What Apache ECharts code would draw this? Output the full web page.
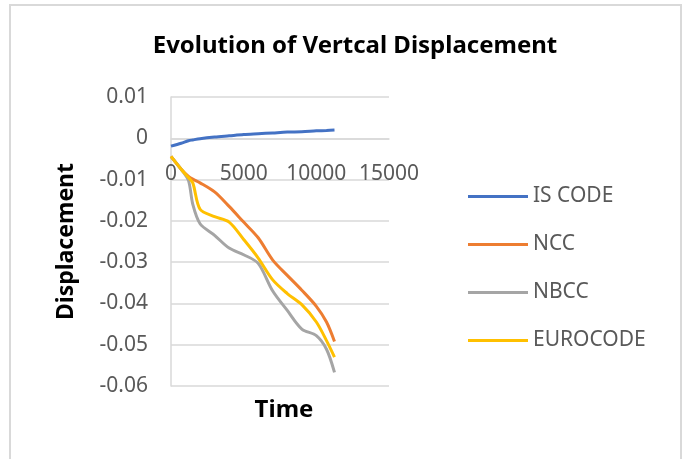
<!DOCTYPE html>
<html>
<head>
<meta charset="UTF-8">
<title>Evolution of Vertcal Displacement</title>
<script src="https://cdn.jsdelivr.net/npm/echarts@6/dist/echarts.min.js"></script>
<style>
  html, body { margin: 0; padding: 0; background: #fff; }
  #frame { position: absolute; left: 9px; top: 4px; width: 673px; height: 470px; border: 2px solid #d9d9d9; box-sizing: border-box; }
  #main { position: absolute; left: 0; top: 0; width: 684px; height: 459px; }
</style>
</head>
<body>
<div id="frame"></div>
<div id="main"></div>
<script>
var time     = [0, 700, 1200, 1500, 2000, 3000, 4000, 5000, 6000, 7000, 8000, 9000, 10000, 10700, 11250];
var isCode   = [-0.0019, -0.0012, -0.0006, -0.0004, -0.0001, 0.0003, 0.0006, 0.0009, 0.0011, 0.0013, 0.0015, 0.0016, 0.0018, 0.0019, 0.002];
var ncc      = [-0.0044, -0.0075, -0.0092, -0.0099, -0.0108, -0.013, -0.0165, -0.0203, -0.0241, -0.0295, -0.0332, -0.0368, -0.0407, -0.0445, -0.0492];
var nbcc     = [-0.0044, -0.0075, -0.0102, -0.016, -0.0207, -0.0235, -0.0266, -0.0282, -0.0303, -0.037, -0.0417, -0.0462, -0.0478, -0.0511, -0.0567];
var eurocode = [-0.0044, -0.0075, -0.0095, -0.0108, -0.0172, -0.019, -0.0203, -0.0245, -0.029, -0.0343, -0.0376, -0.0403, -0.0445, -0.049, -0.053];

var names  = ['IS CODE', 'NCC', 'NBCC', 'EUROCODE'];
var colors = ['#4472C4', '#ED7D31', '#A5A5A5', '#FFC000'];
var values = [isCode, ncc, nbcc, eurocode];

var yMin = -0.06, yMax = 0.01;

function pairs(v) {
  return time.map(function (t, i) { return [t, v[i]]; });
}

var myChart = echarts.init(document.getElementById('main'));

var series = names.map(function (n, k) {
  return {
    name: n,
    type: 'line',
    data: pairs(values[k]),
    smooth: 0.3,
    showSymbol: false,
    symbol: 'none',
    lineStyle: { color: colors[k], width: 3 },
    itemStyle: { color: colors[k] }
  };
});

var gridTop = 97, gridBottom = 73;
var plotH = 459 - gridTop - gridBottom;
// put the time axis on the zero line
var zeroOffset = -plotH * (0 - yMin) / (yMax - yMin);

var option = {
  animation: false,
  textStyle: { fontFamily: 'Noto Sans' },
  title: [
    {
      text: 'Evolution of Vertcal Displacement',
      left: 350, top: 29, textAlign: 'center',
      textStyle: { fontSize: 24, fontWeight: 'bold', color: '#000', fontFamily: 'Noto Sans' }
    },
    {
      text: 'Time',
      left: 279, top: 393, textAlign: 'center',
      textStyle: { fontSize: 24, fontWeight: 'bold', color: '#000', fontFamily: 'Noto Sans' }
    }
  ],
  legend: {
    orient: 'vertical',
    left: 463, top: 181,
    itemWidth: 60, itemHeight: 3, itemGap: 27,
    icon: 'rect',
    selectedMode: false,
    textStyle: { fontSize: 21, color: '#595959' },
    data: names
  },
  grid: { left: 171, right: 295, top: gridTop, bottom: gridBottom, containLabel: false },
  xAxis: {
    type: 'value',
    min: 0, max: 15000, interval: 5000,
    offset: zeroOffset,
    axisLine: { onZero: false, lineStyle: { color: '#d9d9d9', width: 1.5 } },
    axisTick: { show: false },
    splitLine: { show: false },
    axisLabel: {
      color: '#595959', fontSize: 21, margin: 25,
      formatter: function (v) { return String(v); }
    }
  },
  yAxis: {
    type: 'value',
    min: yMin, max: yMax, interval: 0.01,
    name: 'Displacement',
    nameLocation: 'middle',
    nameRotate: 90,
    nameGap: 93,
    nameTextStyle: { fontSize: 23, fontWeight: 'bold', color: '#000' },
    axisLine: { show: true, lineStyle: { color: '#d9d9d9', width: 1.5 } },
    axisTick: { show: false },
    splitLine: { lineStyle: { color: '#d9d9d9', width: 1.5 } },
    axisLabel: {
      color: '#595959', fontSize: 21, margin: 23,
      formatter: function (v) { return String(Math.round(v * 100) / 100); }
    }
  },
  series: series
};

myChart.setOption(option);
</script>
</body>
</html>
